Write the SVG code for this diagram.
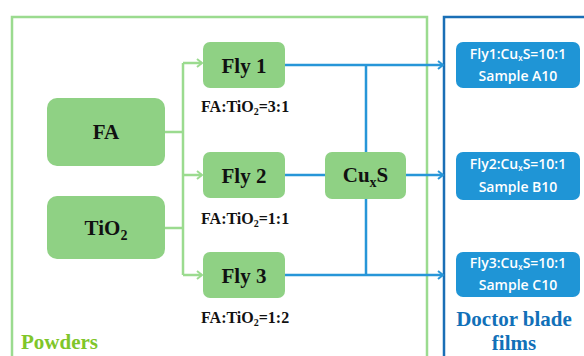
<svg xmlns="http://www.w3.org/2000/svg" width="584" height="356" viewBox="0 0 584 356">
<defs>
<style>
.gbox{fill:#8fd184;}
.bbox{fill:#1f95d6;}
.gline{stroke:#9bdb8f;stroke-width:2.5;fill:none;}
.bline{stroke:#2796d8;stroke-width:2.5;fill:none;}
.nt{font-family:"Liberation Serif","Times New Roman",serif;font-weight:bold;fill:#111;text-anchor:middle;}
.lt{font-family:"Liberation Serif","Times New Roman",serif;font-weight:bold;fill:#111;font-size:16px;}
.ft{font-family:"Liberation Serif","Times New Roman",serif;font-weight:bold;font-size:21px;}
.wt{font-family:"Open Sans","Noto Sans",sans-serif;font-weight:600;fill:#fff;text-anchor:middle;font-size:14px;}
</style>
<marker id="ga" markerUnits="userSpaceOnUse" markerWidth="12" markerHeight="12" refX="9" refY="6" orient="auto"><path d="M4,2 L9,6 L4,10" fill="none" stroke="#9bdb8f" stroke-width="2"/></marker>
<marker id="ba" markerUnits="userSpaceOnUse" markerWidth="12" markerHeight="12" refX="9" refY="6" orient="auto"><path d="M4,2 L9,6 L4,10" fill="none" stroke="#2796d8" stroke-width="2"/></marker>
</defs>
<rect width="584" height="356" fill="#fff"/>
<g id="frames">
<rect x="12" y="17" width="415" height="360" fill="none" stroke="#9bdb8f" stroke-width="2.5"/>
<rect x="444" y="17" width="160" height="360" fill="none" stroke="#1a6fb6" stroke-width="2.5"/>
</g>
<g id="connectors">
<path class="gline" d="M165,132 H183 M165,228 H183 M183,63 V275"/>
<path class="gline" d="M183,63 H202" marker-end="url(#ga)"/>
<path class="gline" d="M183,175 H202" marker-end="url(#ga)"/>
<path class="gline" d="M183,275 H202" marker-end="url(#ga)"/>
<path class="bline" d="M366,65 V275 M285,175 H325"/>
<path class="bline" d="M285,65 H443" marker-end="url(#ba)"/>
<path class="bline" d="M406,175 H443" marker-end="url(#ba)"/>
<path class="bline" d="M285,275 H443" marker-end="url(#ba)"/>
</g>
<g id="FA"><rect class="gbox" x="47" y="98" width="118" height="68" rx="10"/><text class="nt" x="106" y="139" font-size="21">FA</text></g>
<g id="TiO2"><rect class="gbox" x="47" y="196" width="118" height="63" rx="10"/><text class="nt" x="106" y="235" font-size="21">TiO<tspan font-size="14" dy="5">2</tspan></text></g>
<g id="Fly1"><rect class="gbox" x="203" y="42" width="82" height="46" rx="7"/><text class="nt" x="244" y="73" font-size="21">Fly 1</text></g>
<g id="Fly2"><rect class="gbox" x="203" y="152" width="82" height="46" rx="7"/><text class="nt" x="244" y="183" font-size="21">Fly 2</text></g>
<g id="Fly3"><rect class="gbox" x="203" y="252" width="82" height="46" rx="7"/><text class="nt" x="244" y="283" font-size="21">Fly 3</text></g>
<g id="CuxS"><rect class="gbox" x="325" y="152" width="81" height="47" rx="7"/><text class="nt" x="365.5" y="182" font-size="21">Cu<tspan font-size="14" dy="5">x</tspan><tspan dy="-5">S</tspan></text></g>
<g id="labels">
<text class="lt" x="201" y="112">FA:TiO<tspan font-size="10" dy="3">2</tspan><tspan dy="-3">=3:1</tspan></text>
<text class="lt" x="201" y="224">FA:TiO<tspan font-size="10" dy="3">2</tspan><tspan dy="-3">=1:1</tspan></text>
<text class="lt" x="201" y="323">FA:TiO<tspan font-size="10" dy="3">2</tspan><tspan dy="-3">=1:2</tspan></text>
<text class="ft" x="21" y="349" fill="#7fc62a">Powders</text>
<text class="ft" x="514" y="326" fill="#1170b8" text-anchor="middle">Doctor blade</text>
<text class="ft" x="514" y="350" fill="#1170b8" text-anchor="middle">films</text>
</g>
<g id="A10"><rect class="bbox" x="456" y="42" width="124" height="46" rx="7"/><text class="wt" x="518" y="59">Fly1:Cu<tspan font-size="8" dy="2">x</tspan><tspan dy="-2">S=10:1</tspan></text><text class="wt" x="518" y="81">Sample A10</text></g>
<g id="B10"><rect class="bbox" x="456" y="152" width="124" height="48" rx="7"/><text class="wt" x="518" y="169">Fly2:Cu<tspan font-size="8" dy="2">x</tspan><tspan dy="-2">S=10:1</tspan></text><text class="wt" x="518" y="192">Sample B10</text></g>
<g id="C10"><rect class="bbox" x="456" y="252" width="124" height="45" rx="7"/><text class="wt" x="518" y="268">Fly3:Cu<tspan font-size="8" dy="2">x</tspan><tspan dy="-2">S=10:1</tspan></text><text class="wt" x="518" y="290">Sample C10</text></g>
</svg>
